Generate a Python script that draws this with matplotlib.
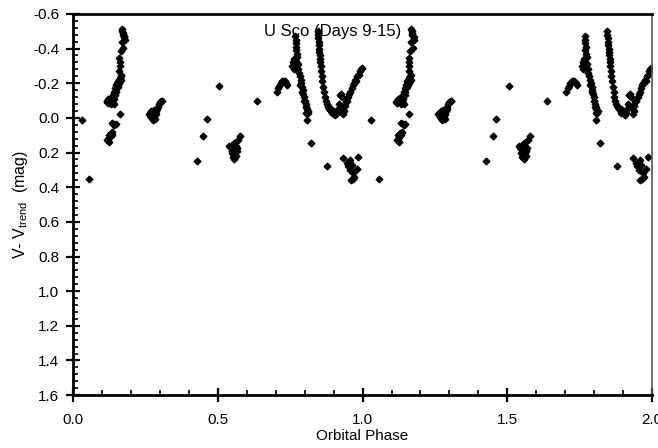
import matplotlib
matplotlib.use("Agg")
import matplotlib.pyplot as plt
import numpy as np
from matplotlib.ticker import MultipleLocator, FormatStrFormatter

plt.rcParams['font.family'] = ['Liberation Sans', 'DejaVu Sans']
plt.rcParams['mathtext.fontset'] = 'custom'
plt.rcParams['mathtext.rm'] = 'Liberation Sans'
plt.rcParams['axes.unicode_minus'] = False

# one orbital cycle, plotted twice (phase and phase + 1)
phase = [
    0.030, 0.056,
    # egress of first eclipse
    0.118, 0.121, 0.124, 0.127, 0.130, 0.133, 0.136, 0.125,
    0.134, 0.138, 0.143, 0.147, 0.162,
    0.116, 0.118, 0.120, 0.122, 0.124, 0.126, 0.128, 0.130, 0.132, 0.134,
    0.136, 0.138, 0.140, 0.142, 0.143, 0.145, 0.146, 0.148, 0.149, 0.151,
    0.152, 0.154, 0.155, 0.157, 0.158, 0.160, 0.161, 0.163, 0.164, 0.166, 0.167,
    0.160, 0.161, 0.161, 0.160,
    0.165, 0.168, 0.174, 0.178, 0.176, 0.172, 0.171, 0.168, 0.170, 0.175,
    # cluster near 0.28
    0.262, 0.265, 0.267, 0.270, 0.272, 0.274, 0.276, 0.278, 0.280, 0.282,
    0.284, 0.286, 0.288, 0.275, 0.269,
    0.290, 0.293, 0.296, 0.300, 0.304, 0.307,
    # sparse points
    0.427, 0.450, 0.462, 0.505,
    # cluster near 0.56
    0.577, 0.571, 0.556, 0.539, 0.545, 0.550, 0.553, 0.558, 0.562, 0.565,
    0.548, 0.555, 0.560, 0.552, 0.557, 0.563, 0.567,
    0.637,
    0.703, 0.708, 0.712, 0.717, 0.722, 0.727, 0.732, 0.737, 0.740,
    # first peak of the double hump
    0.768, 0.769, 0.770, 0.771, 0.770, 0.772, 0.764, 0.760, 0.758, 0.762,
    0.766, 0.770, 0.774, 0.776, 0.778, 0.780, 0.783, 0.786, 0.788, 0.791,
    0.793, 0.796, 0.798, 0.800, 0.803, 0.805, 0.808, 0.810, 0.812, 0.806, 0.807,
    0.785, 0.792, 0.799, 0.804,
    0.821, 0.878,
    # second peak and minimum
    0.845, 0.846, 0.847, 0.848, 0.849, 0.850, 0.851, 0.852, 0.853, 0.854,
    0.855, 0.857, 0.859, 0.861, 0.864, 0.867, 0.870, 0.873, 0.876, 0.879,
    0.882, 0.885, 0.888, 0.891, 0.894, 0.898, 0.902, 0.906, 0.910, 0.914,
    0.918, 0.922, 0.925, 0.928, 0.930, 0.933, 0.936, 0.939, 0.942, 0.946,
    0.950, 0.954, 0.958, 0.962, 0.966, 0.970, 0.974, 0.978, 0.982, 0.986,
    0.990, 0.994, 0.998,
    # faint scatter below
    0.934, 0.957, 0.985, 0.949, 0.955, 0.980, 0.968, 0.972, 0.960, 0.966,
    0.945, 0.962,
]

dmag = [
    0.01, 0.35,
    0.13, 0.12, 0.10, 0.11, 0.09, 0.10, 0.08, 0.14,
    0.03, 0.035, 0.04, 0.035, -0.02,
    -0.09, -0.10, -0.085, -0.11, -0.095, -0.10, -0.09, -0.11, -0.08, -0.12,
    -0.10, -0.13, -0.11, -0.08, -0.15, -0.13, -0.17, -0.15, -0.19, -0.17,
    -0.20, -0.18, -0.21, -0.19, -0.22, -0.20, -0.23, -0.21, -0.24, -0.22, -0.25,
    -0.27, -0.30, -0.32, -0.345,
    -0.385, -0.44, -0.405, -0.45, -0.465, -0.48, -0.49, -0.51, -0.50, -0.47,
    -0.02, -0.03, -0.01, -0.04, 0.00, -0.03, -0.02, -0.045, -0.01, -0.03,
    0.005, -0.02, -0.04, 0.01, -0.005,
    -0.05, -0.06, -0.08, -0.09, -0.10, -0.095,
    0.247, 0.106, 0.004, -0.184,
    0.105, 0.13, 0.147, 0.162, 0.175, 0.19, 0.17, 0.18, 0.165, 0.19,
    0.20, 0.21, 0.205, 0.225, 0.235, 0.22, 0.175,
    -0.098,
    -0.15, -0.17, -0.185, -0.20, -0.21, -0.215, -0.21, -0.20, -0.19,
    -0.47, -0.45, -0.43, -0.41, -0.39, -0.37, -0.34, -0.32, -0.30, -0.28,
    -0.30, -0.33, -0.35, -0.31, -0.28, -0.26, -0.24, -0.22, -0.20, -0.18,
    -0.16, -0.14, -0.12, -0.10, -0.08, -0.06, -0.05, -0.03, -0.04, -0.03, 0.012,
    -0.19, -0.15, -0.10, -0.06,
    0.145, 0.28,
    -0.50, -0.48, -0.46, -0.44, -0.42, -0.40, -0.38, -0.36, -0.34, -0.32,
    -0.30, -0.27, -0.24, -0.21, -0.18, -0.15, -0.12, -0.10, -0.08, -0.07,
    -0.06, -0.05, -0.045, -0.05, -0.03, -0.04, -0.02, -0.015, -0.03, -0.05,
    -0.08, -0.13, -0.14, -0.12, -0.06, -0.02, -0.04, -0.07, -0.09, -0.10,
    -0.12, -0.14, -0.15, -0.17, -0.19, -0.20, -0.22, -0.21, -0.24, -0.25,
    -0.27, -0.28, -0.29,
    0.23, 0.243, 0.224, 0.28, 0.30, 0.295, 0.32, 0.34, 0.358, 0.35,
    0.26, 0.27,
]

title = "U Sco (Days 9-15)"

ph = np.array(phase)
dm = np.array(dmag)

fig = plt.figure(figsize=(6.58, 4.48), dpi=100)
ax = fig.add_axes([0.111, 0.118, 0.880, 0.851])

for shift in (0.0, 1.0):
    ax.plot(ph + shift, dm, ls='none', marker='D', ms=3.4, color='black',
            mec='black')

ax.set_xlim(0.0, 2.0)
ax.set_ylim(1.6, -0.6)
ax.xaxis.set_major_locator(MultipleLocator(0.5))
ax.xaxis.set_minor_locator(MultipleLocator(0.1))
ax.yaxis.set_major_locator(MultipleLocator(0.2))
ax.yaxis.set_minor_locator(MultipleLocator(0.04))
ax.xaxis.set_major_formatter(FormatStrFormatter('%.1f'))
ax.yaxis.set_major_formatter(FormatStrFormatter('%.1f'))

ax.tick_params(which='major', direction='inout', length=10, width=1.6,
               labelsize=11)
ax.tick_params(axis='x', which='major', pad=8)
ax.tick_params(axis='y', which='major', pad=5)
ax.tick_params(which='minor', direction='in', length=3.5, width=1.2)
ax.tick_params(top=False, right=False, which='both')

for s in ('left', 'bottom', 'top'):
    ax.spines[s].set_linewidth(2)
ax.spines['right'].set_linewidth(1.2)
ax.spines['right'].set_color('#555555')

ax.set_xlabel("Orbital Phase", fontsize=11, labelpad=1)
ax.set_ylabel(r"V- V$_{\rm trend}$  (mag)", fontsize=11.5, labelpad=2)
ax.text(0.449, 0.955, title, transform=ax.transAxes, ha='center',
        va='center', fontsize=12)

plt.savefig("out.png", dpi=100)
